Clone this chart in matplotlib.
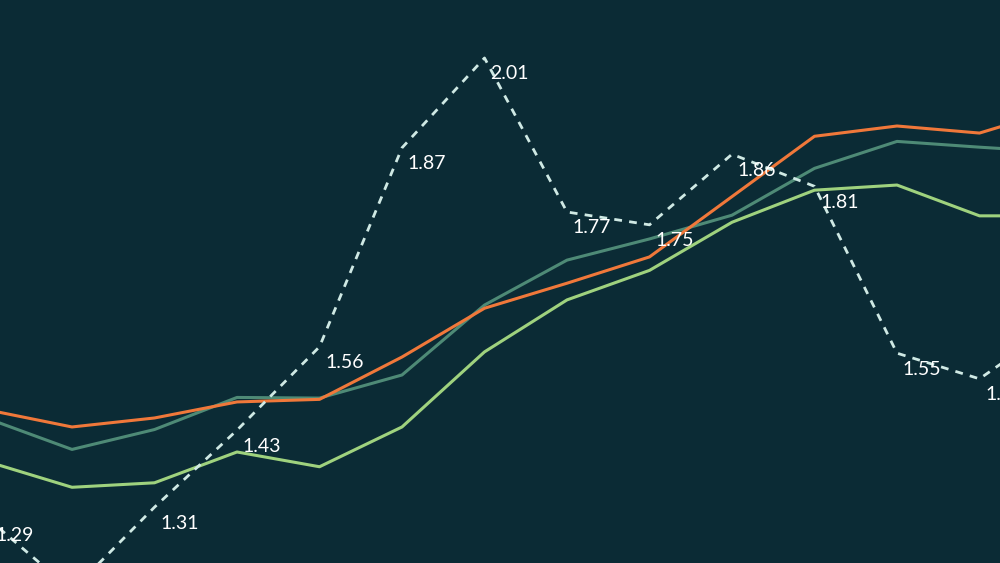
import matplotlib.pyplot as plt

# -----------------------------
# DATA
# -----------------------------
periods = list(range(14))

orange_vals = [1.461, 1.435, 1.449, 1.474, 1.478, 1.544, 1.620, 1.659, 1.700, 1.794, 1.888, 1.904, 1.893, 1.932]
teal_vals = [1.447, 1.400, 1.431, 1.481, 1.480, 1.516, 1.625, 1.695, 1.728, 1.765, 1.838, 1.880, 1.871, 1.863]
green_vals = [1.380, 1.341, 1.348, 1.396, 1.373, 1.435, 1.552, 1.633, 1.679, 1.754, 1.804, 1.812, 1.764, 1.764]
dotted_vals = [1.29, 1.18, 1.31, 1.43, 1.56, 1.87, 2.01, 1.77, 1.75, 1.86, 1.81, 1.55, 1.51, 1.60]

# -----------------------------
# COLOURS
# -----------------------------
BG = "#0b2b35"
ORANGE = "#f0783a"
TEAL = "#4e8a76"
GREEN = "#9fd27e"
DOTTED = "#cfe9e4"

plt.rcParams["font.family"] = ["Lato", "DejaVu Sans"]

fig = plt.figure(figsize=(10, 5.63), dpi=100)
fig.patch.set_facecolor(BG)
ax = fig.add_axes([0, 0, 1, 1])
ax.set_facecolor(BG)

ax.plot(periods, green_vals, color=GREEN, linewidth=2.2, zorder=2)
ax.plot(periods, teal_vals, color=TEAL, linewidth=2.2, zorder=2)
ax.plot(periods, orange_vals, color=ORANGE, linewidth=2.2, zorder=3)
ax.plot(periods, dotted_vals, color=DOTTED, linewidth=2.0,
        linestyle=(0, (2.8, 2.6)), zorder=4)

for x, v in zip(periods, dotted_vals):
    ax.annotate(f"{v:.2f}", xy=(x, v), xytext=(4, -11.5),
                textcoords="offset points", ha="left", va="center",
                color="white", fontsize=14, zorder=5,
                annotation_clip=False)

# pixel mapping: point i sits at -10.5 + 82.5*i px, value y = 1347.8 - 641.7*v px
ax.set_xlim(10.5 / 82.5, 1010.5 / 82.5)
ax.set_ylim((1347.8 - 563) / 641.7, 1347.8 / 641.7)
ax.axis("off")

fig.savefig("out.png", dpi=100, facecolor=BG)
plt.close()
